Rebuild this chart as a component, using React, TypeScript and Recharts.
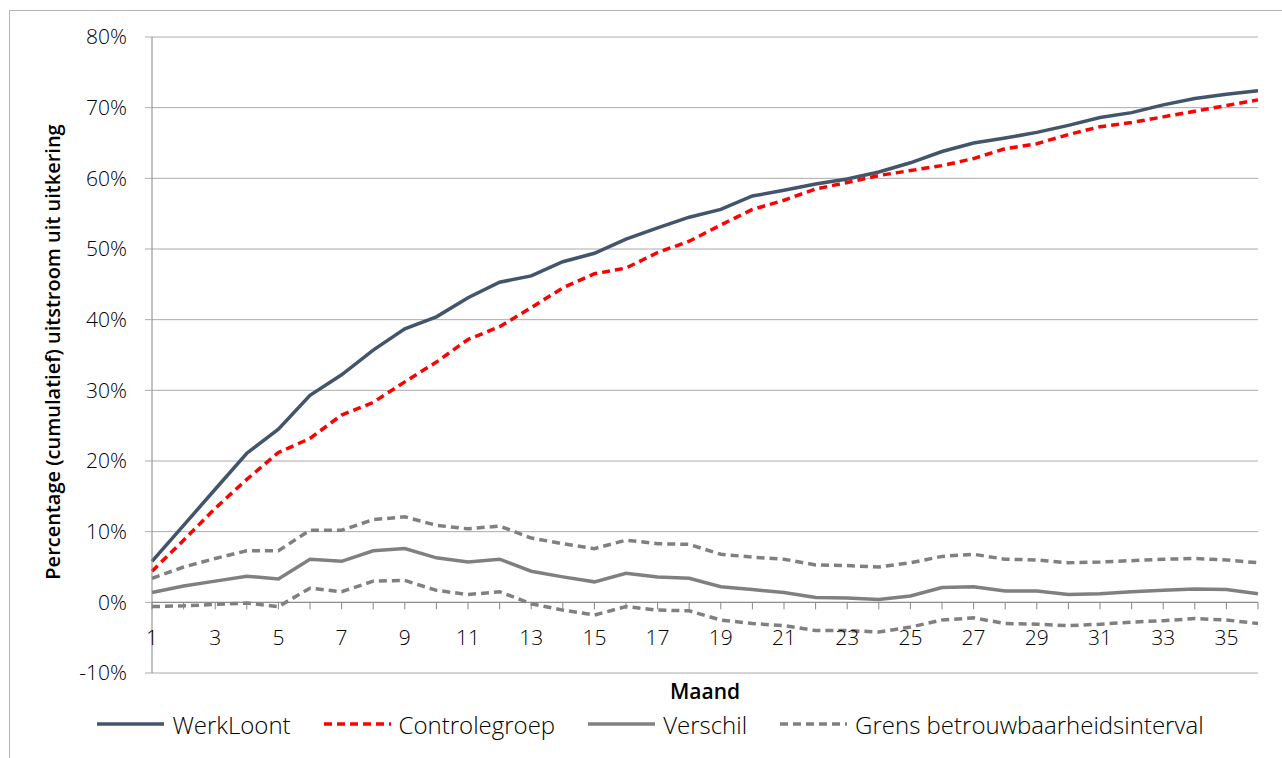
import { LineChart, Line, XAxis, YAxis, CartesianGrid, Legend, ReferenceLine } from 'recharts';

const months = [1, 2, 3, 4, 5, 6, 7, 8, 9, 10, 11, 12, 13, 14, 15, 16, 17, 18, 19, 20, 21, 22, 23, 24, 25, 26, 27, 28, 29, 30, 31, 32, 33, 34, 35, 36];
const werkLoont = [5.8, 10.9, 16.0, 21.1, 24.5, 29.3, 32.2, 35.7, 38.7, 40.4, 43.1, 45.3, 46.2, 48.2, 49.4, 51.4, 53.0, 54.5, 55.6, 57.5, 58.3, 59.2, 59.9, 60.9, 62.2, 63.8, 65.0, 65.7, 66.5, 67.5, 68.6, 69.3, 70.4, 71.3, 71.9, 72.4];
const controlegroep = [4.4, 8.8, 13.3, 17.4, 21.2, 23.2, 26.5, 28.3, 31.2, 34.0, 37.2, 39.0, 41.7, 44.5, 46.5, 47.3, 49.5, 51.1, 53.4, 55.6, 56.9, 58.5, 59.4, 60.4, 61.1, 61.8, 62.8, 64.2, 64.9, 66.2, 67.3, 67.9, 68.7, 69.5, 70.3, 71.1];
const verschil = [1.4, 2.3, 3.0, 3.7, 3.3, 6.1, 5.8, 7.3, 7.6, 6.3, 5.7, 6.1, 4.4, 3.6, 2.9, 4.1, 3.6, 3.4, 2.2, 1.8, 1.4, 0.7, 0.6, 0.4, 0.9, 2.1, 2.2, 1.6, 1.6, 1.1, 1.2, 1.5, 1.7, 1.9, 1.8, 1.2];
const grensBoven = [3.4, 5.0, 6.2, 7.3, 7.3, 10.2, 10.2, 11.7, 12.1, 10.9, 10.4, 10.8, 9.1, 8.3, 7.6, 8.8, 8.3, 8.2, 6.8, 6.4, 6.1, 5.3, 5.2, 5.0, 5.6, 6.5, 6.8, 6.1, 6.0, 5.6, 5.7, 5.9, 6.1, 6.2, 6.0, 5.6];
const grensOnder = [-0.6, -0.5, -0.3, -0.1, -0.6, 2.0, 1.5, 3.0, 3.1, 1.7, 1.1, 1.5, -0.2, -1.1, -1.8, -0.6, -1.1, -1.2, -2.5, -3.0, -3.3, -4.0, -4.0, -4.2, -3.5, -2.5, -2.2, -3.0, -3.1, -3.3, -3.1, -2.8, -2.6, -2.3, -2.5, -3.0];
const yTicks = [-10, 0, 10, 20, 30, 40, 50, 60, 70, 80];

const data = months.map((m, i) => ({
  month: m,
  werkLoont: werkLoont[i],
  controlegroep: controlegroep[i],
  verschil: verschil[i],
  grensBoven: grensBoven[i],
  grensOnder: grensOnder[i],
}));

const FONT = '"Open Sans", sans-serif';
const AXIS = '#868686';
const GRID = '#ABABAB';
const GRAY = '#808080';
const TEXT = '#000';

const W = 1282;
const H = 758;
const margin = { top: 37, right: 24, left: 42, bottom: 19 };
const Y_AXIS_W = 110;
const X_AXIS_H = 36;
const LEGEND_H = 30;
const plotH = H - margin.top - margin.bottom - LEGEND_H - X_AXIS_H;
// the category axis crosses at 0%
const zeroY = margin.top + (plotH * 80) / 90;

const legendOrder = ['werkLoont', 'controlegroep', 'verschil', 'grensBoven'];
const legendStyle: Record<string, { color: string; dash?: string }> = {
  werkLoont: { color: '#44546A' },
  controlegroep: { color: '#FF0000', dash: '8 5' },
  verschil: { color: GRAY },
  grensBoven: { color: GRAY, dash: '8 5' },
};

function MonthTick(props: any) {
  const { x, payload } = props;
  const m = payload.value;
  return (
    <g>
      <line x1={x} x2={x} y1={zeroY} y2={zeroY + 7} stroke={AXIS} strokeWidth={1} />
      {m % 2 === 1 && (
        <text x={x} y={zeroY + 35} textAnchor="middle" dominantBaseline="central" fontFamily={FONT} fontSize={21} fontWeight={300} fill={TEXT}>
          {m}
        </text>
      )}
    </g>
  );
}

function YTitle(props: any) {
  const { viewBox } = props;
  const cx = viewBox.x + 10;
  const cy = margin.top + plotH / 2 - 3;
  return (
    <text x={cx} y={cy} transform={`rotate(-90 ${cx} ${cy})`} textAnchor="middle" dominantBaseline="central" fontFamily={FONT} fontSize={20} fontWeight={600} fill={TEXT}>
      Percentage (cumulatief) uitstroom uit uitkering
    </text>
  );
}

function LegendContent(props: any) {
  const entries = props.payload || [];
  const items = legendOrder
    .map((k) => entries.find((p: any) => p.dataKey === k))
    .filter(Boolean);
  return (
    <div style={{ height: LEGEND_H, display: 'flex', alignItems: 'center', justifyContent: 'center', paddingLeft: 32, fontFamily: FONT, fontSize: 24, fontWeight: 300, color: TEXT }}>
      {items.map((p: any) => {
        const s = legendStyle[p.dataKey];
        return (
          <div key={p.dataKey} style={{ display: 'flex', alignItems: 'center', marginRight: 32 }}>
            <svg width={69} height={10}>
              <line x1={1} x2={68} y1={5} y2={5} stroke={s.color} strokeWidth={3.5} strokeDasharray={s.dash} />
            </svg>
            <span style={{ marginLeft: 7 }}>{p.value}</span>
          </div>
        );
      })}
    </div>
  );
}

export default function App() {
  return (
    <div style={{ position: 'relative', width: W, height: H }}>
      <style>{'body{margin:0;overflow:hidden;}'}</style>
      <div style={{ position: 'absolute', left: 9, top: 10, width: W, height: H, borderLeft: '1px solid #B4B4B4', borderTop: '1px solid #B4B4B4' }} />
      <div style={{ position: 'absolute', left: 0, top: 0 }}>
        <LineChart width={W} height={H} data={data} margin={margin}>
          <CartesianGrid horizontal vertical={false} stroke={GRID} />
          <XAxis
            dataKey="month"
            type="number"
            domain={[1, 36]}
            ticks={months}
            interval={0}
            height={X_AXIS_H}
            axisLine={false}
            tickLine={false}
            tick={<MonthTick />}
            label={{ value: 'Maand', position: 'center', fontFamily: FONT, fontSize: 21, fontWeight: 600, fill: TEXT, dy: 1 }}
          />
          <YAxis
            domain={[-10, 80]}
            ticks={yTicks}
            width={Y_AXIS_W}
            tickFormatter={(v) => `${v}%`}
            axisLine={{ stroke: AXIS }}
            tickLine={{ stroke: GRID }}
            tickSize={7}
            tickMargin={18}
            tick={{ fontFamily: FONT, fontSize: 21, fontWeight: 300, fill: TEXT }}
            label={<YTitle />}
          />
          <ReferenceLine y={0} stroke={AXIS} />
          <Legend verticalAlign="bottom" height={LEGEND_H} content={<LegendContent />} />
          <Line dataKey="werkLoont" name="WerkLoont" stroke="#44546A" strokeWidth={3.5} dot={false} isAnimationActive={false} />
          <Line dataKey="controlegroep" name="Controlegroep" stroke="#FF0000" strokeWidth={3.5} strokeDasharray="8 5" dot={false} isAnimationActive={false} />
          <Line dataKey="verschil" name="Verschil" stroke={GRAY} strokeWidth={3.5} dot={false} isAnimationActive={false} />
          <Line dataKey="grensBoven" name="Grens betrouwbaarheidsinterval" stroke={GRAY} strokeWidth={3.5} strokeDasharray="8 5" dot={false} isAnimationActive={false} />
          <Line dataKey="grensOnder" name="Grens onder" legendType="none" stroke={GRAY} strokeWidth={3.5} strokeDasharray="8 5" dot={false} isAnimationActive={false} />
        </LineChart>
      </div>
    </div>
  );
}
